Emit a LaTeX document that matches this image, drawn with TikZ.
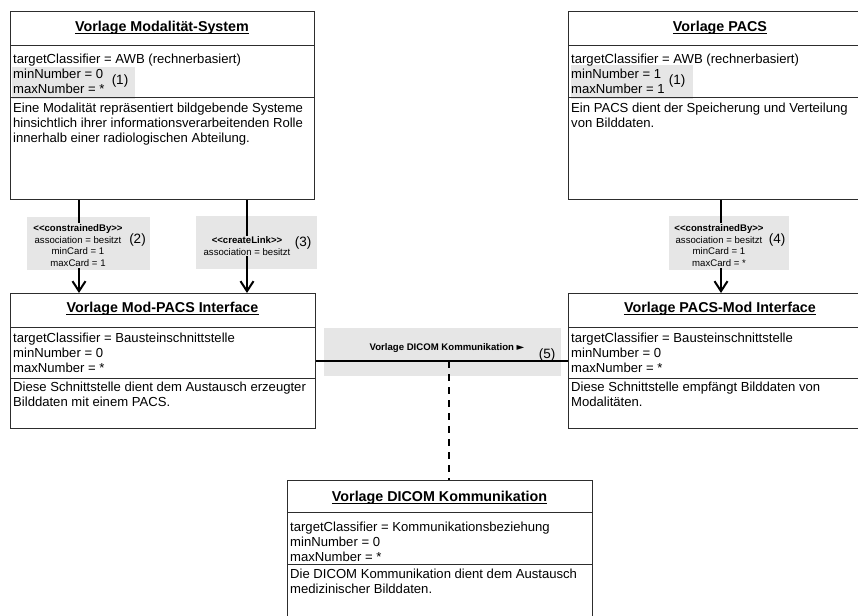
\documentclass[tikz,border=0pt]{standalone}
\usepackage{fontspec}
\setmainfont{Liberation Sans}
\newfontfamily\symfont{DejaVu Sans}
\usetikzlibrary{arrows.meta}

\definecolor{panelgray}{RGB}{230,230,230}
\definecolor{edgegray}{RGB}{45,45,45}

\newcommand\bodyfont{\fontsize{13.1}{15}\selectfont}
\newcommand\titlefont{\fontsize{14.3}{16}\selectfont\bfseries}
\newcommand\smallfont{\fontsize{9.6}{11.8}\selectfont}
\newcommand\numfont{\fontsize{13.5}{15}\selectfont}

\tikzset{
  umlbox/.style={draw=edgegray, line width=0.9pt, fill=white, anchor=north west, inner sep=0pt},
  divider/.style={draw=edgegray, line width=0.9pt},
  shade/.style={fill=panelgray, draw=none, anchor=north west, inner sep=0pt},
  row/.style={anchor=base west, inner sep=0pt, font=\bodyfont},
  heading/.style={anchor=base, inner sep=0pt, font=\titlefont},
  uline/.style={line width=1.1pt, black},
  tag/.style={fill=panelgray, inner sep=1pt, align=center, font=\smallfont},
  refno/.style={inner sep=0pt, font=\numfont},
  assoc/.style={line width=2pt, black, -{Straight Barb[length=10pt,width=13pt,line width=2pt]}},
  link/.style={line width=2pt, black},
  dashlink/.style={line width=2pt, black, dash pattern=on 7pt off 6pt},
}

\begin{document}
\begin{tikzpicture}[x=1pt,y=-1pt]
\useasboundingbox (0,0) rectangle (858,615);
\clip (0,0) rectangle (858,615);

% ---------- class boxes ----------
\node[umlbox, minimum width=304pt, minimum height=188pt] (ms)    at (10,11)  {};
\node[umlbox, minimum width=304pt, minimum height=188pt] (pacs)  at (568,11) {};
\node[umlbox, minimum width=305pt, minimum height=135pt] (mpi)   at (10,293) {};
\node[umlbox, minimum width=304pt, minimum height=135pt] (pmi)   at (568,293) {};
\node[umlbox, minimum width=305pt, minimum height=160pt] (dicom) at (287,480) {};

% highlighted cardinality rows
\node[shade, minimum width=123pt, minimum height=32pt] (ms-hl)   at (12,67)  {};
\node[shade, minimum width=122pt, minimum height=34pt] (pacs-hl) at (571,65) {};

% compartment dividers
\foreach \b/\ya/\yb in {ms/45/97, pacs/45/97, mpi/327/378, pmi/327/378, dicom/512/564}{
  \draw[divider] (\b.west |- 0,\ya) -- (\b.east |- 0,\ya);
  \draw[divider] (\b.west |- 0,\yb) -- (\b.east |- 0,\yb);
}

% ---------- Vorlage Modalität-System ----------
\node[heading] (ms-title) at (162,31.7) {Vorlage Modalität-System};
\draw[uline] ([yshift=-1.8pt]ms-title.base west) -- ([yshift=-1.8pt]ms-title.base east);
\node[row] (ms-a1) at (13,63.5) {targetClassifier = AWB (rechnerbasiert)};
\node[row] (ms-a2) at (13,78.5) {minNumber = 0};
\node[row] (ms-a3) at (13,93.5) {maxNumber = *};
\node[refno] (ms-r) at (120,81) {(1)};
\node[row] (ms-d1) at (13,112.5) {Eine Modalität repräsentiert bildgebende Systeme};
\node[row] (ms-d2) at (13,127.5) {hinsichtlich ihrer informationsverarbeitenden Rolle};
\node[row] (ms-d3) at (13,142.5) {innerhalb einer radiologischen Abteilung.};

% ---------- Vorlage PACS ----------
\node[heading] (pacs-title) at (720,31.7) {Vorlage PACS};
\draw[uline] ([yshift=-1.8pt]pacs-title.base west) -- ([yshift=-1.8pt]pacs-title.base east);
\node[row] (pacs-a1) at (571,63.5) {targetClassifier = AWB (rechnerbasiert)};
\node[row] (pacs-a2) at (571,78.5) {minNumber = 1};
\node[row] (pacs-a3) at (571,93.5) {maxNumber = 1};
\node[refno] (pacs-r) at (677,81) {(1)};
\node[row] (pacs-d1) at (571,112.5) {Ein PACS dient der Speicherung und Verteilung};
\node[row] (pacs-d2) at (571,127.5) {von Bilddaten.};

% ---------- Vorlage Mod-PACS Interface ----------
\node[heading] (mpi-title) at (162.5,312.5) {Vorlage Mod-PACS Interface};
\draw[uline] ([yshift=-1.8pt]mpi-title.base west) -- ([yshift=-1.8pt]mpi-title.base east);
\node[row] (mpi-a1) at (13,342) {targetClassifier = Bausteinschnittstelle};
\node[row] (mpi-a2) at (13,357) {minNumber = 0};
\node[row] (mpi-a3) at (13,372) {maxNumber = *};
\node[row] (mpi-d1) at (13,391.5) {Diese Schnittstelle dient dem Austausch erzeugter};
\node[row] (mpi-d2) at (13,406.5) {Bilddaten mit einem PACS.};

% ---------- Vorlage PACS-Mod Interface ----------
\node[heading] (pmi-title) at (720,312.5) {Vorlage PACS-Mod Interface};
\draw[uline] ([yshift=-1.8pt]pmi-title.base west) -- ([yshift=-1.8pt]pmi-title.base east);
\node[row] (pmi-a1) at (571,342) {targetClassifier = Bausteinschnittstelle};
\node[row] (pmi-a2) at (571,357) {minNumber = 0};
\node[row] (pmi-a3) at (571,372) {maxNumber = *};
\node[row] (pmi-d1) at (571,391.5) {Diese Schnittstelle empfängt Bilddaten von};
\node[row] (pmi-d2) at (571,406.5) {Modalitäten.};

% ---------- Vorlage DICOM Kommunikation ----------
\node[heading] (dicom-title) at (439.5,501.5) {Vorlage DICOM Kommunikation};
\draw[uline] ([yshift=-1.8pt]dicom-title.base west) -- ([yshift=-1.8pt]dicom-title.base east);
\node[row] (dicom-a1) at (290,531) {targetClassifier = Kommunikationsbeziehung};
\node[row] (dicom-a2) at (290,546.5) {minNumber = 0};
\node[row] (dicom-a3) at (290,561.5) {maxNumber = *};
\node[row] (dicom-d1) at (290,578.5) {Die DICOM Kommunikation dient dem Austausch};
\node[row] (dicom-d2) at (290,593) {medizinischer Bilddaten.};

% ---------- association label panels ----------
\node[shade, minimum width=123pt, minimum height=53pt] (p2) at (27,217)  {};
\node[shade, minimum width=121pt, minimum height=53pt] (p3) at (196,216) {};
\node[shade, minimum width=120pt, minimum height=54pt] (p4) at (669,216) {};
\node[shade, minimum width=237pt, minimum height=48pt] (p5) at (324,328) {};

% ---------- connectors ----------
\coordinate (c2) at (79,0);
\coordinate (c3) at (247,0);
\coordinate (c4) at (721,0);
\coordinate (c5) at (449,361);
\draw[assoc] (ms.south -| c2) -- (mpi.north -| c2);
\draw[assoc] (ms.south -| c3) -- (mpi.north -| c3);
\draw[assoc] (pacs.south -| c4) -- (pmi.north -| c4);
\draw[link] (mpi.east) -- (pmi.west);
\draw[dashlink] (c5) -- (c5 |- dicom.north);

% ---------- association labels ----------
\node[tag] (l2) at (78,245.5) {\textbf{{<}{<}constrainedBy{>}{>}}\\association = besitzt\\minCard = 1\\maxCard = 1};
\node[refno] (n2) at (137.5,240) {(2)};
\node[tag] (l3) at (247,246) {\textbf{{<}{<}createLink{>}{>}}\\association = besitzt};
\node[refno] (n3) at (303,243) {(3)};
\node[tag] (l4) at (719,245.5) {\textbf{{<}{<}constrainedBy{>}{>}}\\association = besitzt\\minCard = 1\\maxCard = *};
\node[refno] (n4) at (777,240) {(4)};
\node[tag, fill=none] (l5) at (447,348) {\textbf{Vorlage DICOM Kommunikation {\symfont\fontsize{10}{10}\selectfont ►}}};
\node[refno] (n5) at (547,355) {(5)};

\end{tikzpicture}
\end{document}
